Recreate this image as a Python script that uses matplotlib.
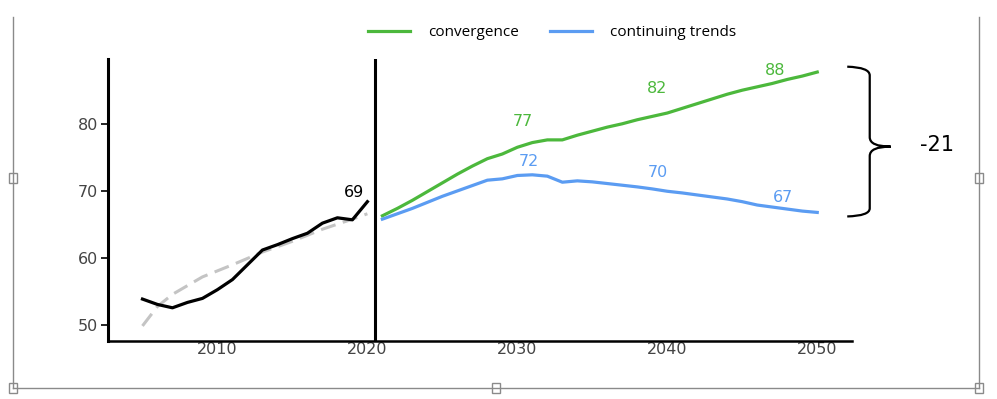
import numpy as np
import matplotlib
matplotlib.use("Agg")
import matplotlib.pyplot as plt
from matplotlib.lines import Line2D
from matplotlib.patches import PathPatch, Rectangle
from matplotlib.path import Path

# historical series and its fitted trend
hist_years = list(range(2005, 2021))
hist_vals = [53.9, 53.1, 52.6, 53.4, 54.0, 55.3, 56.8, 59.0, 61.2, 62.0,
             62.9, 63.7, 65.2, 66.0, 65.7, 68.4]
trend_years = [2005, 2006, 2007, 2009, 2011, 2013, 2015, 2017, 2019, 2020]
trend_vals = [49.9, 52.8, 54.6, 57.2, 59.0, 60.9, 62.5, 64.3, 65.8, 66.6]

# projections
proj_years = list(range(2021, 2051))
convergence = [66.3, 67.4, 68.6, 69.9, 71.2, 72.5, 73.7, 74.8, 75.5, 76.5,
               77.2, 77.6, 77.6, 78.3, 78.9, 79.5, 80.0, 80.6, 81.1, 81.6,
               82.3, 83.0, 83.7, 84.4, 85.0, 85.5, 86.0, 86.6, 87.1, 87.7]
continuing = [65.8, 66.6, 67.4, 68.3, 69.2, 70.0, 70.8, 71.6, 71.8, 72.3,
              72.4, 72.2, 71.3, 71.5, 71.35, 71.1, 70.85, 70.6, 70.3, 69.95,
              69.7, 69.4, 69.1, 68.8, 68.4, 67.9, 67.6, 67.3, 67.0, 66.8]

# point labels: (text, year, value)
green_labels = [("77", 2030.4, 80.3), ("82", 2039.3, 85.3), ("88", 2047.2, 87.9)]
blue_labels = [("72", 2030.8, 74.4), ("70", 2039.4, 72.7), ("67", 2047.7, 69.0)]
last_hist_label = ("69", 2019.1, 69.7)
gap_label = "-21"

GREEN = "#4cb83c"
BLUE = "#5b9cf2"
TICK_COL = "#444444"

fig = plt.figure(figsize=(9.97, 3.99), dpi=100)
ax = fig.add_axes([0.1083, 0.1461, 0.746, 0.7053])

ax.plot(trend_years, trend_vals, color="#c4c4c4", lw=2.2, ls=(0, (5, 2.5)), zorder=2)
ax.plot(hist_years, hist_vals, color="black", lw=2.3, zorder=3)
ax.plot(proj_years, convergence, color=GREEN, lw=2.3, label="convergence")
ax.plot(proj_years, continuing, color=BLUE, lw=2.3, label="continuing trends")
ax.axvline(2020.5, color="black", lw=2.2)

for txt, x, y in green_labels:
    ax.text(x, y, txt, color=GREEN, fontsize=11.5, ha="center", va="center")
for txt, x, y in blue_labels:
    ax.text(x, y, txt, color=BLUE, fontsize=11.5, ha="center", va="center")
ax.text(last_hist_label[1], last_hist_label[2], last_hist_label[0], color="black",
        fontsize=11.5, ha="center", va="center")

# curly brace showing the gap in 2050
verts = [(2052.0, 88.5), (2053.5, 88.4), (2053.5, 87.2),
         (2053.5, 78.0),
         (2053.5, 76.6), (2054.9, 76.6),
         (2053.5, 76.6), (2053.5, 75.2),
         (2053.5, 67.4),
         (2053.5, 66.3), (2052.0, 66.2)]
codes = [Path.MOVETO, Path.CURVE3, Path.CURVE3,
         Path.LINETO,
         Path.CURVE3, Path.CURVE3,
         Path.CURVE3, Path.CURVE3,
         Path.LINETO,
         Path.CURVE3, Path.CURVE3]
ax.add_patch(PathPatch(Path(verts, codes), fill=False, lw=1.6, color="black",
                       clip_on=False))
ax.text(2058.0, 76.9, gap_label, fontsize=15, ha="center", va="center", clip_on=False)

ax.set_xlim(2002.7, 2052.3)
ax.set_ylim(47.7, 89.6)
ax.set_xticks([2010, 2020, 2030, 2040, 2050])
ax.set_yticks([50, 60, 70, 80])
ax.tick_params(axis="x", length=0, pad=1, labelsize=11.5, labelcolor=TICK_COL)
ax.tick_params(axis="y", length=5, width=1.2, pad=2, labelsize=11.5, labelcolor=TICK_COL)
for s in ["top", "right"]:
    ax.spines[s].set_visible(False)
ax.spines["left"].set_linewidth(2.2)
ax.spines["bottom"].set_linewidth(1.8)

fig.legend(loc="center", bbox_to_anchor=(0.554, 0.918), ncol=2, frameon=False,
           prop={"family": ["Open Sans", "DejaVu Sans"], "size": 11},
           handlelength=2.75, handletextpad=1.2, columnspacing=2.0)

# selection frame of the screenshot
W, H = 997.0, 399.0
def px(x, y):
    return x / W, 1 - y / H

frame_col = "#8a8a8a"
for (x0, y0), (x1, y1) in [((13, 17), (13, 388)), ((979, 17), (979, 388)),
                           ((13, 388), (979, 388))]:
    a, b = px(x0, y0)
    c, d = px(x1, y1)
    fig.add_artist(Line2D([a, c], [b, d], color=frame_col, lw=1.0,
                          transform=fig.transFigure))
for hx, hy in [(13, 178), (979, 178), (13, 388), (496, 388), (979, 388)]:
    a, b = px(hx - 4, hy + 5)
    fig.add_artist(Rectangle((a, b), 8 / W, 10 / H, transform=fig.transFigure,
                             facecolor="white", edgecolor=frame_col, lw=1.0))

fig.savefig("out.png", dpi=100)
